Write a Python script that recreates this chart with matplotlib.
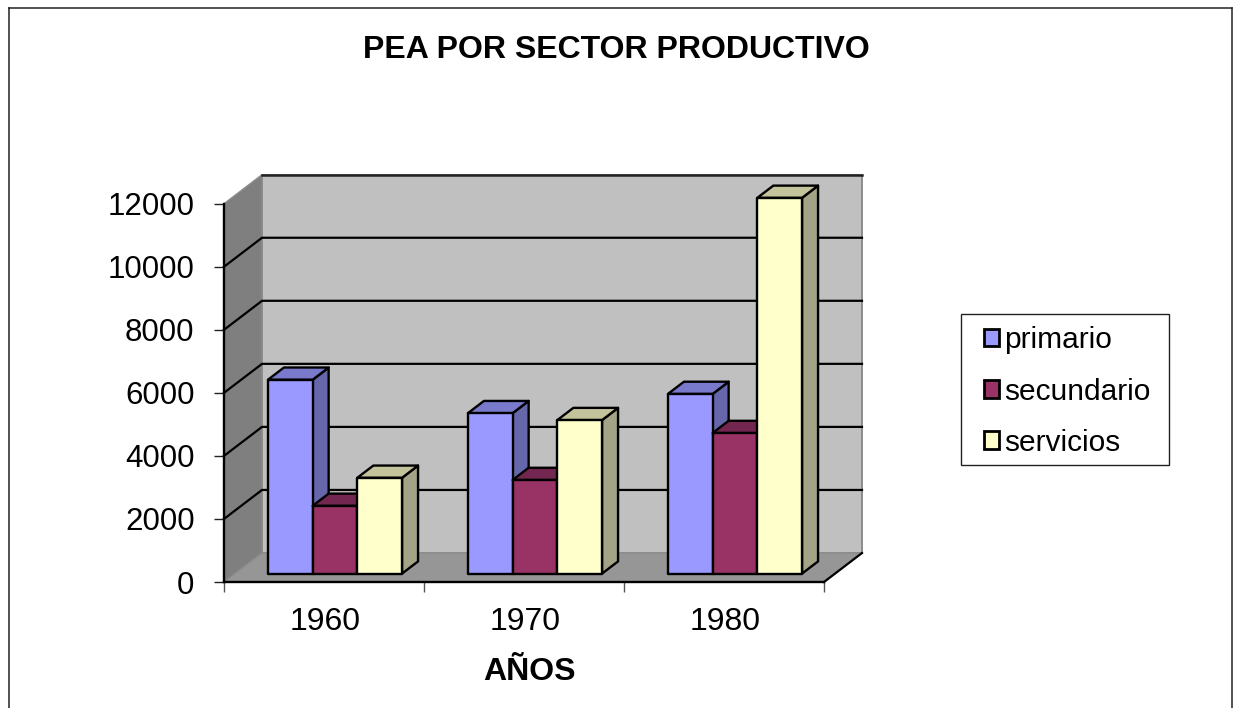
import matplotlib
matplotlib.use("Agg")
import matplotlib.pyplot as plt
from matplotlib.patches import Polygon, Patch, Rectangle
from matplotlib.lines import Line2D

plt.rcParams['font.family'] = ['Liberation Sans', 'DejaVu Sans']

# ---- data ----
years = ["1960", "1970", "1980"]
series_names = ["primario", "secundario", "servicios"]
primario = [6150, 5090, 5700]
secundario = [2150, 2970, 4460]
servicios = [3040, 4870, 11920]
y_ticks = [0, 2000, 4000, 6000, 8000, 10000, 12000]
title = "PEA POR SECTOR PRODUCTIVO"
x_title = "AÑOS"

# ---- styles: (front, top, side) ----
colors = [("#9999FF", "#7A7ACC", "#6666AA"),
          ("#993366", "#732650", "#662244"),
          ("#FFFFCC", "#C4C49C", "#A3A385")]
W, H = 1233, 708
fig = plt.figure(figsize=(W / 100, H / 100), dpi=100, facecolor="white")

# pixel geometry of the front plane
L, R, B, T = 224, 824, 582, 203.7
ax = fig.add_axes([L / W, 1 - B / H, (R - L) / W, (B - T) / H])
ax.set_xlim(0, 3)
ax.set_ylim(0, 12000)
ax.patch.set_visible(False)

# depth vector (full depth) expressed in data units
DX = 38 / ((R - L) / 3)
DY = 29 * 12000 / (B - T)


def proj(x, v, d):
    return (x + d * DX, v + d * DY)


def poly(pts, fc, ec="none", lw=0.0, z=1):
    ax.add_patch(Polygon(pts, closed=True, facecolor=fc, edgecolor=ec,
                         linewidth=lw, zorder=z, clip_on=False, joinstyle="round"))


GRAYE = "#8C8C8C"
# back wall, left wall, floor
poly([proj(0, 0, 1), proj(3, 0, 1), proj(3, 12000, 1), proj(0, 12000, 1)], "#C0C0C0", GRAYE, 1.4, 1)
poly([proj(0, 0, 0), proj(0, 0, 1), proj(0, 12000, 1), proj(0, 12000, 0)], "#7F7F7F", GRAYE, 1.0, 1)
poly([proj(0, 0, 0), proj(3, 0, 0), proj(3, 0, 1), proj(0, 0, 1)], "#969696", GRAYE, 1.0, 1)

# gridlines
for v in y_ticks[1:]:
    p0, p1, p2 = proj(0, v, 0), proj(0, v, 1), proj(3, v, 1)
    if v < 12000:
        ax.plot([p0[0], p1[0], p2[0]], [p0[1], p1[1], p2[1]], color="black", lw=1.6,
                zorder=2, clip_on=False, solid_joinstyle="miter")
    else:
        ax.plot([p1[0], p2[0]], [p1[1], p2[1]], color="#222222", lw=1.8, zorder=2, clip_on=False)
# floor right edge
p0, p1 = proj(3, 0, 0), proj(3, 0, 1)
ax.plot([p0[0], p1[0]], [p0[1], p1[1]], color="black", lw=1.6, zorder=2, clip_on=False)

# bars
bar_w = 44.7 / ((R - L) / 3)
group_w = 3 * bar_w
d0, d1 = 11 / 38, 27 / 38
all_series = [primario, secundario, servicios]
z = 3
for i in range(len(years)):
    x0 = i + 0.5 - group_w / 2
    for s, vals in enumerate(all_series):
        v = vals[i]
        xl, xr = x0 + s * bar_w, x0 + (s + 1) * bar_w
        front, top, side = colors[s]
        poly([proj(xr, 0, d0), proj(xr, 0, d1), proj(xr, v, d1), proj(xr, v, d0)], side, "black", 1.7, z)
        poly([proj(xl, v, d0), proj(xr, v, d0), proj(xr, v, d1), proj(xl, v, d1)], top, "black", 1.7, z)
        poly([proj(xl, 0, d0), proj(xr, 0, d0), proj(xr, v, d0), proj(xl, v, d0)], front, "black", 1.7, z)
        z += 1

# axes
for sp in ("top", "right"):
    ax.spines[sp].set_visible(False)
for sp in ("left", "bottom"):
    ax.spines[sp].set_linewidth(1.7)
    ax.spines[sp].set_zorder(30)
ax.set_yticks(y_ticks)
ax.set_xticks(range(4))
ax.set_xticklabels([])
ax.set_xticks([i + 0.505 for i in range(3)], years, minor=True)
ax.tick_params(axis="y", length=7.2, width=1.0, color="#222222", pad=14, labelsize=22.5)
ax.tick_params(axis="x", which="major", length=7.5, width=1.0, color="#555555")
ax.tick_params(axis="x", which="minor", length=0, pad=18, labelsize=23)

# titles
fig.text(616 / W, 1 - 50 / H, title, ha="center", va="center", fontsize=23, fontweight="bold")
fig.text(529 / W, 1 - 672 / H, x_title, ha="center", va="center", fontsize=23, fontweight="bold")

# legend box and legend
fig.add_artist(Rectangle((961 / W, 1 - 465 / H), 208 / W, 151 / H, transform=fig.transFigure,
                         facecolor="white", edgecolor="#222222", linewidth=1.0))
handles = [Patch(facecolor=c[0], edgecolor="black", linewidth=2.0) for c in colors]
leg = fig.legend(handles, series_names, loc="center left",
                 bbox_to_anchor=(983.5 / W, 1 - 391.5 / H), fontsize=21.5,
                 handlelength=0.53, handleheight=0.53, handletextpad=0.17,
                 labelspacing=0.78, borderpad=0, borderaxespad=0,
                 frameon=False)

# outer chart frame
for xs, ys in [((9, 9), (708, 8)), ((9, 1232), (8, 8)), ((1232, 1232), (8, 708))]:
    fig.add_artist(Line2D([x / W for x in xs], [1 - y / H for y in ys], color="#222222", lw=1.1))

fig.savefig("out.png", dpi=100)
